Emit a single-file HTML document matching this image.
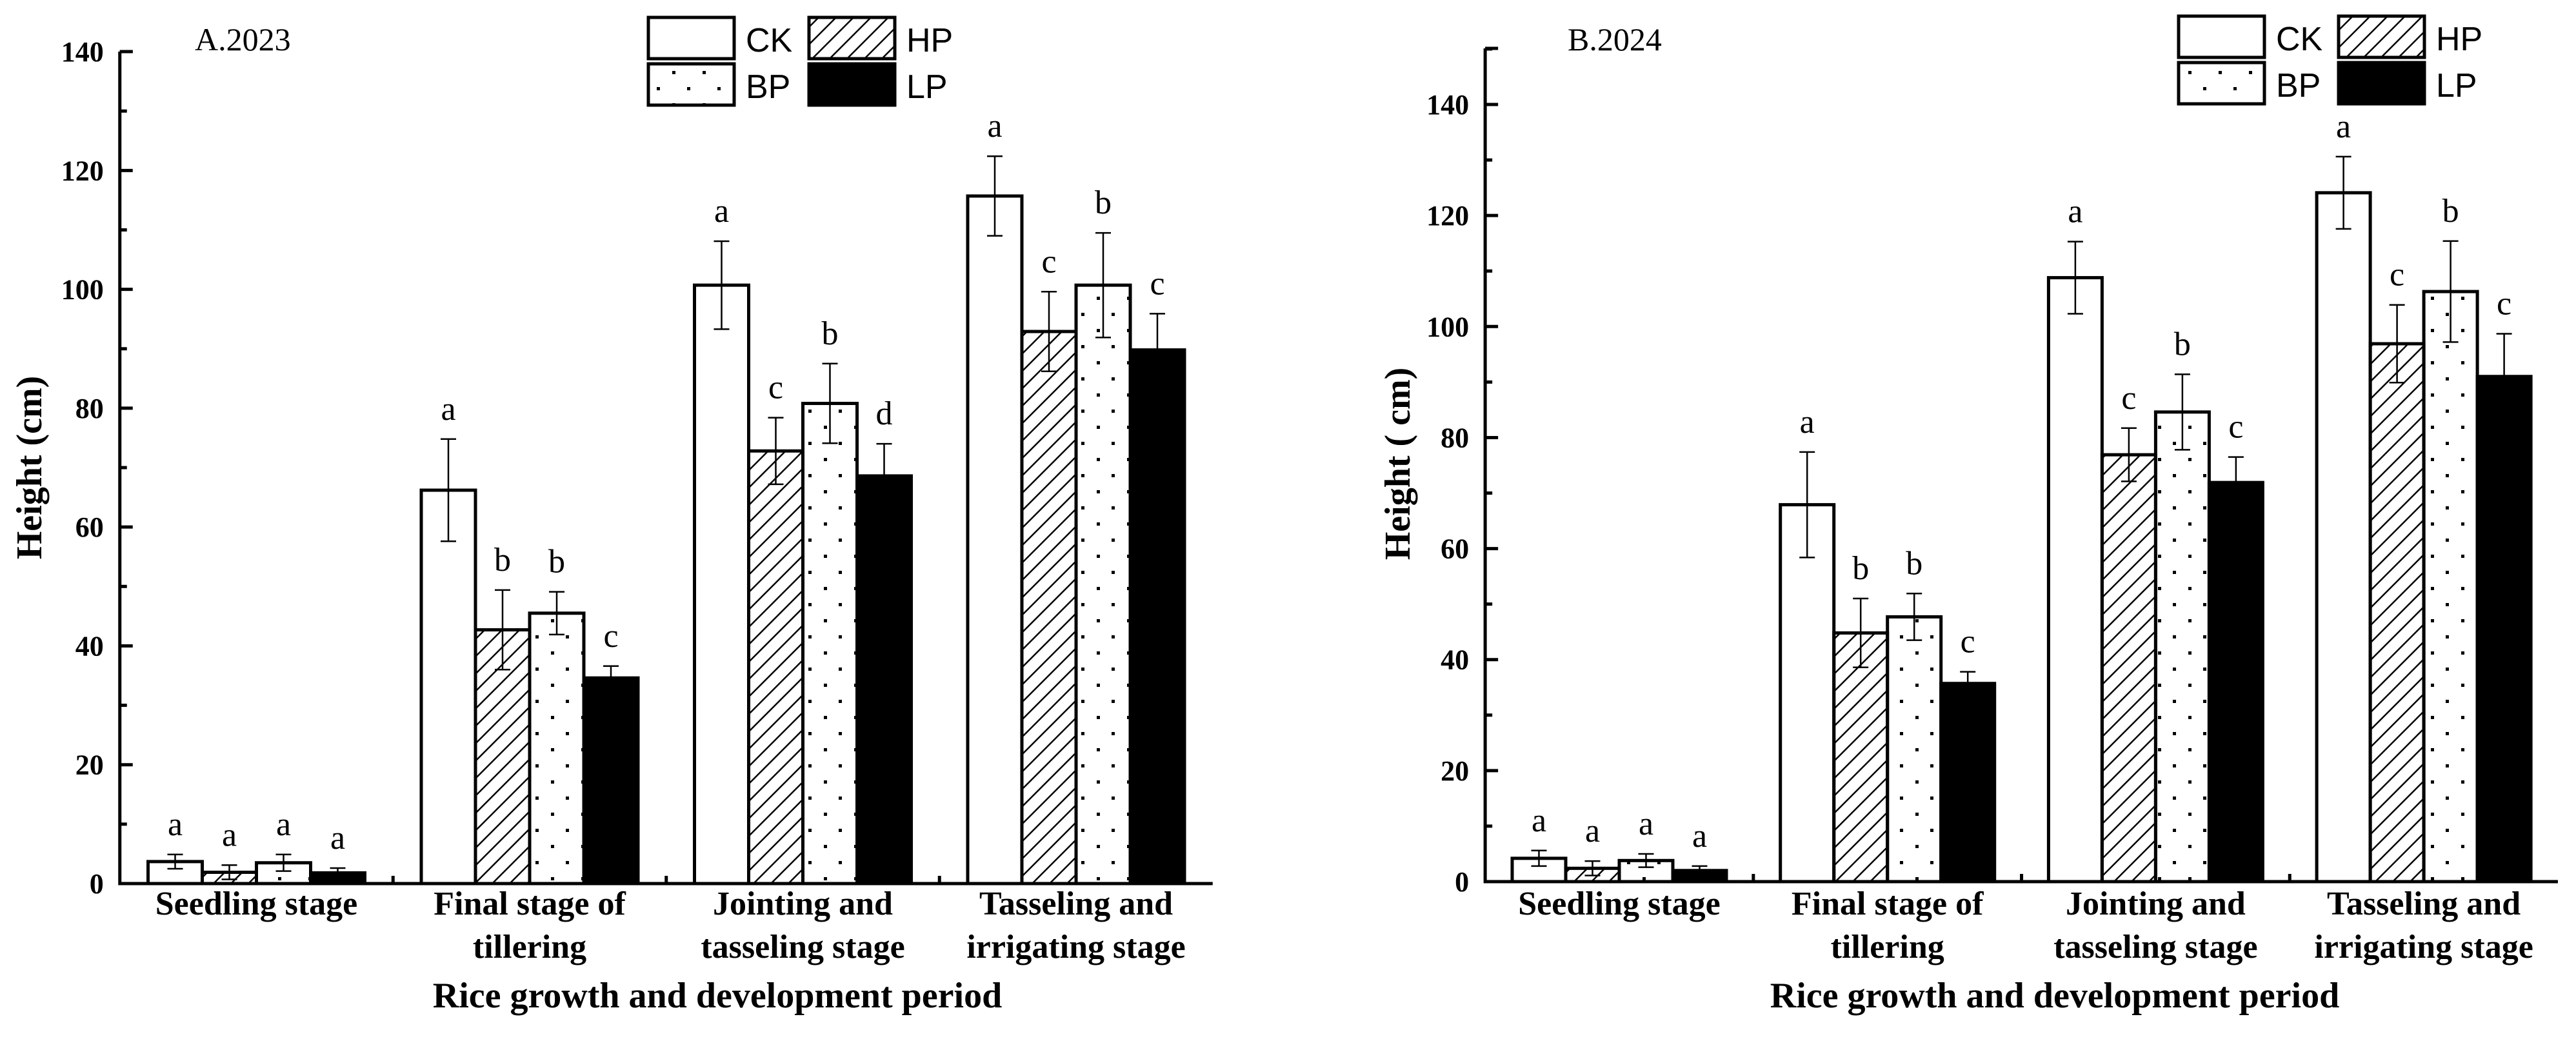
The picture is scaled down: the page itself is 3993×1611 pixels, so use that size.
<!DOCTYPE html>
<html><head><meta charset="utf-8"><style>
html,body{margin:0;padding:0;background:#fff;}
svg{display:block;}
</style></head><body>
<svg id="chart" width="3993" height="1611" viewBox="0 0 3993 1611" xmlns="http://www.w3.org/2000/svg">
<defs>
<pattern id="hatch" patternUnits="userSpaceOnUse" width="27" height="27">
<path d="M-3,30 L30,-3 M-3,3 L3,-3 M24,30 L30,24" stroke="#000" stroke-width="2.5"/>
</pattern>
<pattern id="dots" patternUnits="userSpaceOnUse" width="47" height="50">
<rect x="8" y="10" width="5" height="5" fill="#000"/>
<rect x="31" y="35" width="5" height="5" fill="#000"/>
</pattern>
</defs>
<g id="layer"></g>
</svg>
<script>
const categories = [["Seedling stage"],["Final stage of","tillering"],["Jointing and","tasseling stage"],["Tasseling and","irrigating stage"]];
const seriesNames = ["CK","HP","BP","LP"];
const yTicksA = [0,20,40,60,80,100,120,140];
const yTicksB = [0,20,40,60,80,100,120,140];
// 2023 values: per series, per stage
const ckA = [3.7,66.2,100.7,115.7];
const hpA = [1.9,42.7,72.8,92.9];
const bpA = [3.5,45.5,80.8,100.7];
const lpA = [1.8,34.6,68.6,89.8];
const ckErrA = [1.2,8.6,7.4,6.7];
const hpErrA = [1.2,6.7,5.6,6.7];
const bpErrA = [1.4,3.6,6.7,8.8];
const lpErrA = [0.8,2.0,5.4,6.1];
const lettersA = [["a","a","a","a"],["a","b","b","c"],["a","c","b","d"],["a","c","b","c"]];
// 2024
const ckB = [4.2,67.9,108.8,124.1];
const hpB = [2.4,44.8,76.9,96.9];
const bpB = [3.8,47.7,84.6,106.3];
const lpB = [2.0,35.7,71.9,91.0];
const ckErrB = [1.4,9.5,6.5,6.5];
const hpErrB = [1.3,6.2,4.8,7.0];
const bpErrB = [1.2,4.2,6.8,9.1];
const lpErrB = [0.8,2.1,4.6,7.7];
const lettersB = [["a","a","a","a"],["a","b","b","c"],["a","c","b","c"],["a","c","b","c"]];

const NS="http://www.w3.org/2000/svg";
const layer=document.getElementById('layer');
function mk(tag,attrs,parent){const e=document.createElementNS(NS,tag);for(const k in attrs)e.setAttribute(k,attrs[k]);(parent||layer).appendChild(e);return e;}
const fills=["#fff","url(#hatch)","url(#dots)","#000"];

function panel(cfg){
  const g=mk('g',{});
  
  
  const y=v=>cfg.y0-v*cfg.ppu;
  const cx=i=>cfg.c0+cfg.pitch*i;
  const left=cfg.c0-cfg.pitch/2, right=cfg.c0+cfg.pitch*3.5;
  const vals=[cfg.ck,cfg.hp,cfg.bp,cfg.lp], errs=[cfg.ckE,cfg.hpE,cfg.bpE,cfg.lpE];
  for(let s=0;s<4;s++){
    for(let c=0;c<4;c++){
      const x=cx(c)-2*cfg.bw+s*cfg.bw;
      const r=mk('rect',{x:x,y:y(vals[s][c]),width:cfg.bw,height:cfg.y0-y(vals[s][c]),fill:fills[s],stroke:'#000','stroke-width':5},g);
      
      
      const xm=x+cfg.bw/2, yt=y(vals[s][c]+errs[s][c]), yb=y(vals[s][c]-errs[s][c]);
      const eb=mk('path',{d:`M${xm},${yt}V${yb}M${xm-12},${yt}H${xm+12}M${xm-12},${yb}H${xm+12}`,stroke:'#000','stroke-width':2.5,fill:'none'},g);
      
      
      const t=mk('text',{x:xm,y:yt-30,'text-anchor':'middle','font-family':'Liberation Serif, serif','font-size':52},g);
      t.textContent=cfg.letters[c][s];
      
      
    }
  }
  const ax=mk('path',{d:`M${left},${cfg.top}V${cfg.y0}H${right}`,stroke:'#000','stroke-width':5,fill:'none'},g);
  
  
  mk('path',{d:`M${left},${cfg.top}H${left+20}`,stroke:'#000','stroke-width':5},g);
  for(let v=10;v<=cfg.maxTick;v+=20){mk('path',{d:`M${left},${y(v)}H${left+11}`,stroke:'#000','stroke-width':5},g);}
  cfg.ticks.forEach(v=>{
    mk('path',{d:`M${left},${y(v)}H${left+20}`,stroke:'#000','stroke-width':5},g);
    const t=mk('text',{x:left-25,y:y(v)+15,'text-anchor':'end','font-family':'Liberation Serif, serif','font-weight':'bold','font-size':44},g);
    t.textContent=v;
    
    
  });
  for(let i=1;i<4;i++){mk('path',{d:`M${left+cfg.pitch*i},${cfg.y0}V${cfg.y0-12}`,stroke:'#000','stroke-width':5},g);}
  categories.forEach((lines,i)=>{
    lines.forEach((ln,j)=>{
      const t=mk('text',{x:cx(i),y:1418+j*67,'text-anchor':'middle','font-family':'Liberation Serif, serif','font-weight':'bold','font-size':52},g);
      t.textContent=ln;
      
      
    });
  });
  const xt=mk('text',{x:cfg.xtitle,y:1562,'text-anchor':'middle','font-family':'Liberation Serif, serif','font-weight':'bold','font-size':56},g);
  xt.textContent='Rice growth and development period';
  
  
  const yt=mk('text',{x:0,y:0,transform:`translate(${cfg.ytx},${cfg.yty}) rotate(-90)`,'text-anchor':'middle','font-family':'Liberation Serif, serif','font-weight':'bold','font-size':56},g);
  yt.textContent=cfg.ytitle;
  
  
  const pt=mk('text',{x:cfg.ptx,y:78,'font-family':'Liberation Serif, serif','font-size':50},g);
  pt.textContent=cfg.ptitle;
  
  
  const L=cfg.leg;
  const lg=mk('g',{},g);
  
  
  const pos=[[L.x1,L.r1],[L.x2,L.r1],[L.x1,L.r2],[L.x2,L.r2]];
  pos.forEach((p,s)=>{
    const r=mk('rect',{x:p[0],y:p[1],width:L.w,height:64,fill:fills[s],stroke:'#000','stroke-width':5},lg);
    
    
    const t=mk('text',{x:p[0]+L.w+18,y:p[1]+53,'font-family':'Liberation Sans, sans-serif','font-size':52},lg);
    t.textContent=seriesNames[s];
    
    
  });
}
panel({name:'panel-a-2023',y0:1370,ppu:9.214,top:80,maxTick:140,c0:397.5,pitch:423.5,bw:84,
  ck:ckA,hp:hpA,bp:bpA,lp:lpA,ckE:ckErrA,hpE:hpErrA,bpE:bpErrA,lpE:lpErrA,letters:lettersA,ticks:yTicksA,
  xtitle:1112,ytx:64,yty:725,ytitle:'Height (cm)',ptx:302,ptitle:'A.2023',
  leg:{x1:1005,x2:1254,r1:27,r2:99,w:133}});
panel({name:'panel-b-2024',y0:1367,ppu:8.607,top:75,maxTick:150,c0:2510,pitch:415.7,bw:83,
  ck:ckB,hp:hpB,bp:bpB,lp:lpB,ckE:ckErrB,hpE:hpErrB,bpE:bpErrB,lpE:lpErrB,letters:lettersB,ticks:yTicksB,
  xtitle:3185,ytx:2185,yty:719,ytitle:'Height ( cm)',ptx:2430,ptitle:'B.2024',
  leg:{x1:3377,x2:3625,r1:25,r2:97,w:133}});
</script>
</body></html>
